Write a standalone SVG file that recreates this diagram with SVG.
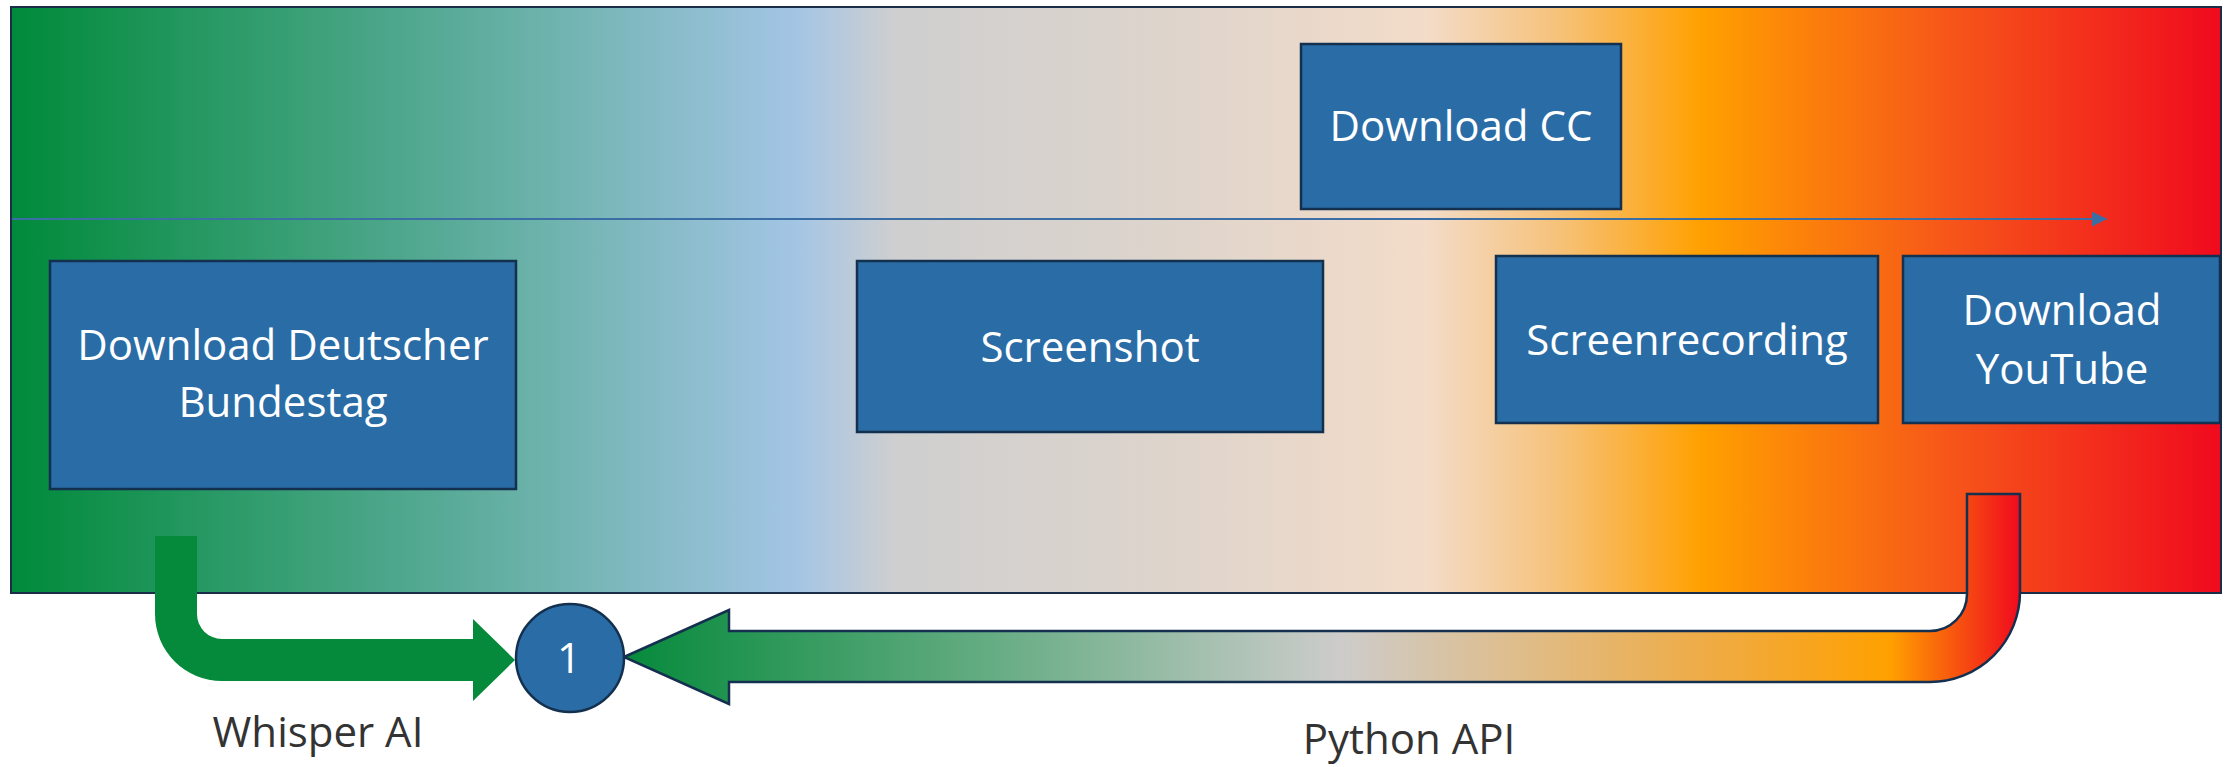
<svg xmlns="http://www.w3.org/2000/svg" width="2233" height="767" viewBox="0 0 2233 767">
<defs>
<linearGradient id="bg" gradientUnits="userSpaceOnUse" x1="11" y1="0" x2="2221" y2="0">
<stop offset="0" stop-color="#008a3a"/>
<stop offset="0.18" stop-color="#50a88e"/>
<stop offset="0.355" stop-color="#a3c5e5"/>
<stop offset="0.40" stop-color="#cfcfd0"/>
<stop offset="0.52" stop-color="#ddd4cc"/>
<stop offset="0.64" stop-color="#f3dcc9"/>
<stop offset="0.70" stop-color="#f6c27a"/>
<stop offset="0.765" stop-color="#ffa000"/>
<stop offset="0.88" stop-color="#f6541a"/>
<stop offset="1" stop-color="#f00a1e"/>
</linearGradient>
<linearGradient id="py" gradientUnits="userSpaceOnUse" x1="624" y1="0" x2="2020" y2="0">
<stop offset="0" stop-color="#068a3c"/>
<stop offset="0.27" stop-color="#68ad85"/>
<stop offset="0.513" stop-color="#cdcccb"/>
<stop offset="0.642" stop-color="#dfbd8a"/>
<stop offset="0.77" stop-color="#eeac48"/>
<stop offset="0.907" stop-color="#ffa000"/>
<stop offset="1" stop-color="#f00a1e"/>
</linearGradient>
<marker id="ah" viewBox="0 0 10 10" refX="10" refY="5" markerWidth="15" markerHeight="15" markerUnits="userSpaceOnUse" orient="auto">
<path d="M0,0 L10,5 L0,10 Z" fill="#3a6ea5"/>
</marker>
<style>
.node{fill:#2a6ca6;stroke:#13304f;stroke-width:2.5}
.nt{font-family:"Open Sans","Noto Sans",sans-serif;font-size:42px;fill:#ffffff;text-anchor:middle}
.lbl{font-family:"Open Sans","Noto Sans",sans-serif;font-size:42px;fill:#333333;text-anchor:middle}
</style>
</defs>
<rect id="frame" x="11" y="7" width="2210" height="586" fill="url(#bg)" stroke="#1a2e4a" stroke-width="2"/>
<g id="connectors">
<line x1="12" y1="219" x2="2107" y2="219" stroke="#3a6ea5" stroke-width="2" marker-end="url(#ah)"/>
<path id="whisper-arrow" d="M155,536 H197 V614 A25,25 0 0 0 222,639 H473 V619 L515,660 L473,701 V681 H222 A67,67 0 0 1 155,614 Z" fill="#058a3b"/>
<path id="python-arrow" d="M624,657 L729,610 V631 H1930 A37,37 0 0 0 1967,594 V494 H2020 V592 A90,90 0 0 1 1930,682 H729 V704 Z" fill="url(#py)" stroke="#15304f" stroke-width="2.5" stroke-linejoin="miter"/>
<text class="lbl" x="318" y="747">Whisper AI</text>
<text class="lbl" x="1409" y="754">Python API</text>
</g>
<g id="node-bundestag">
<rect class="node" x="50" y="261" width="466" height="228"/>
<text class="nt" x="283" y="360">Download Deutscher</text>
<text class="nt" x="283" y="417">Bundestag</text>
</g>
<g id="node-screenshot">
<rect class="node" x="857" y="261" width="466" height="171"/>
<text class="nt" x="1090" y="362">Screenshot</text>
</g>
<g id="node-cc">
<rect class="node" x="1301" y="44" width="320" height="165"/>
<text class="nt" x="1461" y="141">Download CC</text>
</g>
<g id="node-screenrecording">
<rect class="node" x="1496" y="256" width="382" height="167"/>
<text class="nt" x="1687" y="355">Screenrecording</text>
</g>
<g id="node-youtube">
<rect class="node" x="1903" y="256" width="317" height="167"/>
<text class="nt" x="2062" y="325">Download</text>
<text class="nt" x="2062" y="384">YouTube</text>
</g>
<g id="node-1">
<circle class="node" cx="570" cy="658" r="54"/>
<text class="nt" x="569" y="673">1</text>
</g>
</svg>
